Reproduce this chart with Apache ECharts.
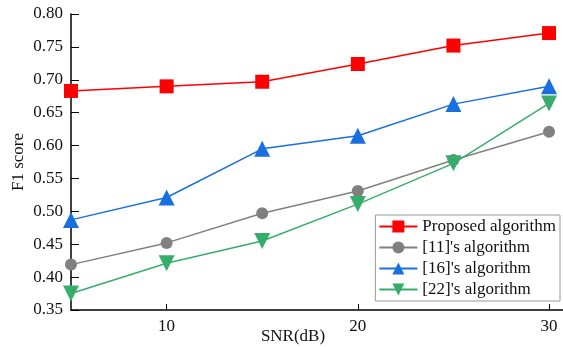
<!DOCTYPE html>
<html>
<head>
<meta charset="utf-8">
<script src="https://cdn.jsdelivr.net/npm/echarts@6/dist/echarts.min.js"></script>
<style>
  html, body { margin: 0; padding: 0; background: #fff; }
  #chart { width: 563px; height: 347px; }
</style>
</head>
<body>
<div id="chart"></div>
<script>
const snr = [5, 10, 15, 20, 25, 30];
const xTickValues = [10, 20, 30];
const proposed = [0.683, 0.690, 0.697, 0.724, 0.752, 0.771];
const ref11 = [0.419, 0.452, 0.497, 0.531, 0.578, 0.621];
const ref16 = [0.487, 0.521, 0.595, 0.615, 0.663, 0.690];
const ref22 = [0.375, 0.421, 0.455, 0.511, 0.573, 0.664];
const seriesNames = ['Proposed algorithm', "[11]'s algorithm", "[16]'s algorithm", "[22]'s algorithm"];

const serif = 'Liberation Serif, Times New Roman, serif';

const makeSeries = (name, values, color, symbol, size) => ({
  name: name,
  type: 'line',
  data: snr.map((x, i) => [x, values[i]]),
  symbol: symbol,
  symbolSize: size,
  lineStyle: { color: color, width: 1.5 },
  itemStyle: { color: color },
  z: 3
});

const chart = echarts.init(document.getElementById('chart'));
chart.setOption({
  animation: false,
  grid: { left: 71, right: 0, top: 14, bottom: 37, outerBoundsMode: 'none' },
  legend: {
    orient: 'vertical',
    right: 3,
    top: 215,
    data: seriesNames,
    itemWidth: 38,
    itemHeight: 15,
    itemGap: 4,
    padding: [3, 4, 3, 3],
    borderColor: '#999',
    borderWidth: 1,
    backgroundColor: '#fff',
    textStyle: { fontFamily: serif, fontSize: 17, color: '#111' }
  },
  xAxis: {
    type: 'value',
    min: 5,
    max: 30.73,
    name: 'SNR(dB)',
    nameLocation: 'middle',
    nameGap: 18,
    nameMoveOverlap: false,
    nameTextStyle: { fontFamily: serif, fontSize: 17, color: '#111', padding: [0, 48, 0, 0] },
    splitLine: { show: false },
    axisLine: { lineStyle: { color: '#000', width: 1.5 } },
    axisTick: { inside: true, length: 6, customValues: xTickValues, lineStyle: { color: '#000' } },
    axisLabel: { customValues: xTickValues, fontFamily: serif, fontSize: 17, color: '#111', margin: 8 }
  },
  yAxis: {
    type: 'value',
    min: 0.35,
    max: 0.80,
    interval: 0.05,
    name: 'F1 score',
    nameLocation: 'middle',
    nameGap: 44,
    nameMoveOverlap: false,
    nameTextStyle: { fontFamily: serif, fontSize: 17, color: '#111' },
    splitLine: { show: false },
    axisLine: { show: true, lineStyle: { color: '#000', width: 1.5 } },
    axisTick: { show: true, inside: true, length: 8, lineStyle: { color: '#000' } },
    axisLabel: {
      fontFamily: serif, fontSize: 17, color: '#111', margin: 8,
      formatter: v => v.toFixed(2)
    }
  },
  series: [
    makeSeries(seriesNames[0], proposed, '#ff0000', 'rect', 14),
    makeSeries(seriesNames[1], ref11, '#808080', 'circle', 12),
    makeSeries(seriesNames[2], ref16, '#1a6fdf', 'triangle', 16),
    makeSeries(seriesNames[3], ref22, '#37ad6b', 'path://M0,0 L10,0 L5,9 Z', 16)
  ]
});
</script>
</body>
</html>
